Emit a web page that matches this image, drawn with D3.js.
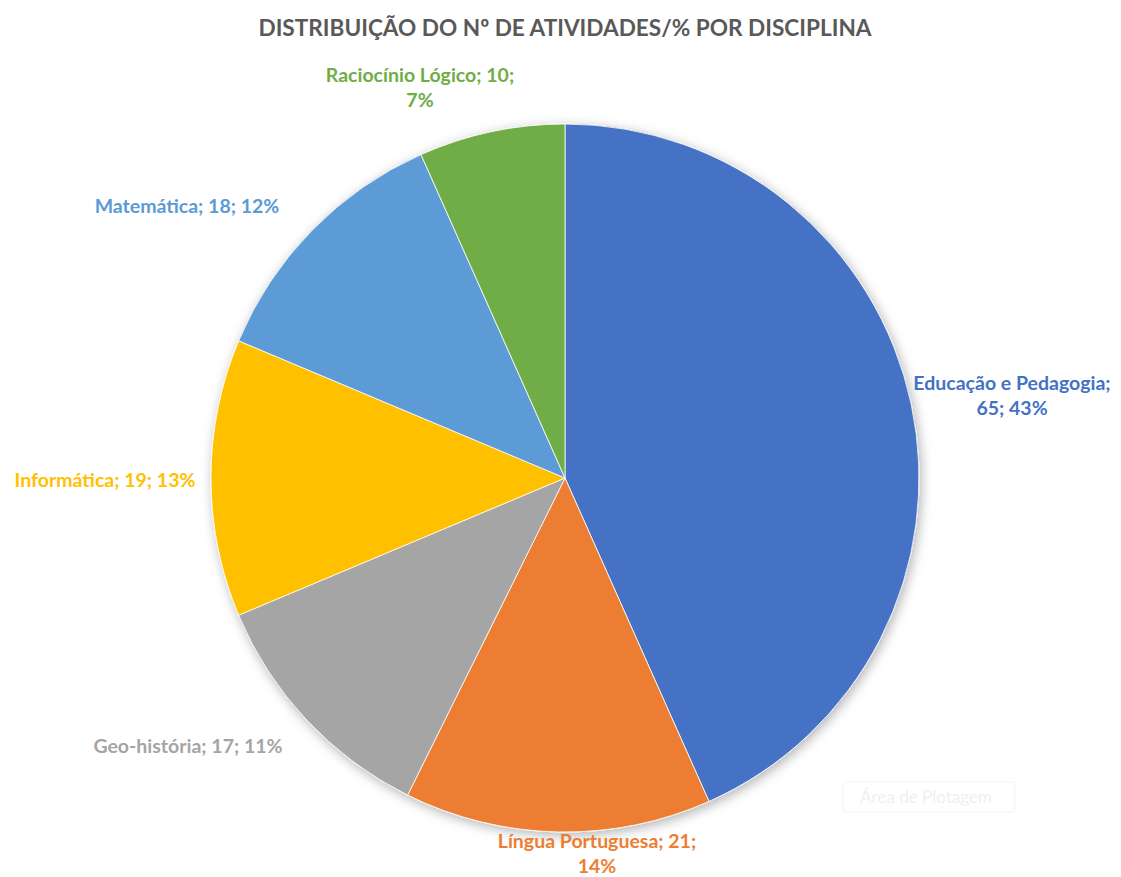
<!DOCTYPE html>
<html>
<head>
<meta charset="utf-8">
<script src="https://cdn.jsdelivr.net/npm/d3@7"></script>
<style>
  body { margin: 0; background: #fff; }
  text { font-family: Lato, "Open Sans", sans-serif; font-weight: bold; }
</style>
</head>
<body>
<div id="chart"></div>
<script>
const categories = ["Educação e Pedagogia", "Língua Portuguesa", "Geo-história", "Informática", "Matemática", "Raciocínio Lógico"];
const counts = [65, 21, 17, 19, 18, 10];
const percents = ["43%", "14%", "11%", "13%", "12%", "7%"];
const colors = ["#4472C4", "#ED7D31", "#A5A5A5", "#FFC000", "#5B9BD5", "#70AD47"];
const chartTitle = "DISTRIBUIÇÃO DO Nº DE ATIVIDADES/% POR DISCIPLINA";

// label lines and placement (Excel "best fit" look)
const labelLines = [
  d => [d.name + ";", d.count + "; " + d.pct],
  d => [d.name + "; " + d.count + ";", d.pct],
  d => [d.name + "; " + d.count + "; " + d.pct],
  d => [d.name + "; " + d.count + "; " + d.pct],
  d => [d.name + "; " + d.count + "; " + d.pct],
  d => [d.name + "; " + d.count + ";", d.pct]
];
const labelPos = [[1012, 383], [597, 841], [188, 746], [105, 480], [187, 206], [420, 75]];

const width = 1121, height = 877;
const cx = 565, cy = 478, radius = 354;

const svg = d3.select("#chart").append("svg")
  .attr("width", width)
  .attr("height", height);

const defs = svg.append("defs");
const filter = defs.append("filter")
  .attr("id", "shadow")
  .attr("x", "-20%").attr("y", "-20%")
  .attr("width", "140%").attr("height", "140%");
filter.append("feDropShadow")
  .attr("dx", 2).attr("dy", 3)
  .attr("stdDeviation", 6)
  .attr("flood-color", "#000")
  .attr("flood-opacity", 0.3);

svg.append("text")
  .attr("x", 565)
  .attr("y", 36)
  .attr("text-anchor", "middle")
  .style("font-size", "22.6px")
  .style("fill", "#595959")
  .text(chartTitle);

const data = categories.map((name, i) => ({ name, count: counts[i], pct: percents[i], color: colors[i] }));

const pie = d3.pie().sort(null).value(d => d.count);
const arc = d3.arc().innerRadius(0).outerRadius(radius);

const g = svg.append("g")
  .attr("transform", `translate(${cx},${cy})`);

g.append("g")
  .attr("filter", "url(#shadow)")
  .selectAll("path")
  .data(pie(data))
  .join("path")
  .attr("d", arc)
  .attr("fill", d => d.data.color)
  .attr("stroke", "#fff")
  .attr("stroke-width", 0.8);

const labels = svg.append("g")
  .selectAll("text")
  .data(data)
  .join("text")
  .attr("text-anchor", "middle")
  .attr("x", (d, i) => labelPos[i][0])
  .attr("y", (d, i) => labelPos[i][1])
  .style("font-size", "19.5px")
  .style("fill", d => d.color);

labels.each(function (d, i) {
  const lines = labelLines[i](d);
  d3.select(this).selectAll("tspan")
    .data(lines)
    .join("tspan")
    .attr("x", labelPos[i][0])
    .attr("dy", (l, j) => j === 0 ? "0.35em" : "1.3em")
    .text(l => l);
});

// faint leftover "Área de Plotagem" tooltip
svg.append("rect")
  .attr("x", 843).attr("y", 782)
  .attr("width", 172).attr("height", 30)
  .attr("rx", 3)
  .attr("fill", "#fff")
  .attr("stroke", "#f3f3f3");
svg.append("text")
  .attr("x", 926).attr("y", 803)
  .attr("text-anchor", "middle")
  .style("font-size", "17px")
  .style("font-weight", "normal")
  .style("fill", "#f0f0f0")
  .text("Área de Plotagem");
</script>
</body>
</html>
